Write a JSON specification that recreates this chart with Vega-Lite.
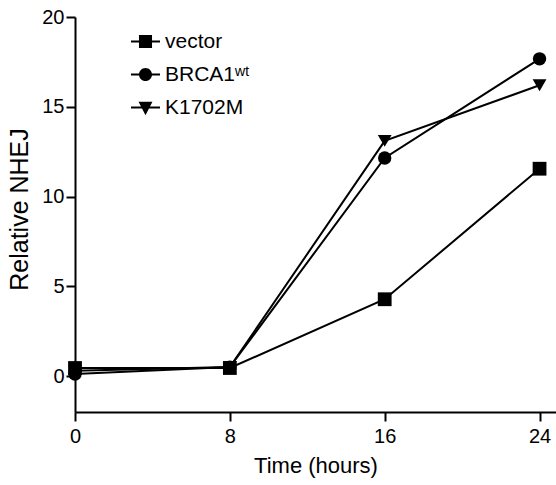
{
  "$schema": "https://vega.github.io/schema/vega-lite/v6.json",
  "autosize": "none",
  "width": 481,
  "height": 395,
  "padding": {"left": 75, "top": 17, "right": 0, "bottom": 73},
  "background": "white",
  "config": {
    "view": {"stroke": null},
    "font": "Liberation Sans",
    "axis": {
      "domainColor": "black", "domainWidth": 2, "tickColor": "black", "tickWidth": 2,
      "labelColor": "black", "titleColor": "black", "labelFont": "Liberation Sans",
      "titleFont": "Liberation Sans", "titleFontWeight": "normal", "grid": false
    },
    "legend": {"labelFont": "Liberation Sans", "labelColor": "black"}
  },
  "data": {
    "values": [
      {"time": 0, "value": 0.45, "series": "vector"},
      {"time": 8, "value": 0.45, "series": "vector"},
      {"time": 16, "value": 4.28, "series": "vector"},
      {"time": 24, "value": 11.55, "series": "vector"},
      {"time": 0, "value": 0.12, "series": "BRCA1wt"},
      {"time": 8, "value": 0.5, "series": "BRCA1wt"},
      {"time": 16, "value": 12.15, "series": "BRCA1wt"},
      {"time": 24, "value": 17.67, "series": "BRCA1wt"},
      {"time": 0, "value": 0.3, "series": "K1702M"},
      {"time": 8, "value": 0.5, "series": "K1702M"},
      {"time": 16, "value": 13.1, "series": "K1702M"},
      {"time": 24, "value": 16.2, "series": "K1702M"}
    ]
  },
  "encoding": {
    "x": {
      "field": "time", "type": "quantitative",
      "scale": {"domain": [0, 24.85], "nice": false, "zero": false},
      "axis": {
        "values": [0, 8, 16, 24], "title": "Time (hours)", "tickSize": 9,
        "labelFontSize": 20, "labelPadding": 5, "titleFontSize": 22,
        "titlePadding": 9, "labelFlush": false
      }
    },
    "y": {
      "field": "value", "type": "quantitative",
      "scale": {"domain": [-2, 20], "nice": false, "zero": false},
      "axis": {
        "values": [0, 5, 10, 15, 20], "title": "Relative NHEJ", "tickSize": 9,
        "labelFontSize": 20, "labelPadding": 2, "titleFontSize": 25,
        "titlePadding": 9, "titleY": 192, "labelFlush": false
      }
    }
  },
  "layer": [
    {
      "mark": {"type": "line", "color": "black", "strokeWidth": 2},
      "encoding": {"detail": {"field": "series"}}
    },
    {
      "transform": [{"filter": "datum.series === 'vector'"}],
      "mark": {"type": "point", "filled": true, "color": "black", "opacity": 1, "size": 190, "shape": "square"}
    },
    {
      "transform": [{"filter": "datum.series === 'BRCA1wt'"}],
      "mark": {"type": "point", "filled": true, "color": "black", "opacity": 1, "size": 180, "shape": "circle"}
    },
    {
      "transform": [{"filter": "datum.series === 'K1702M'"}],
      "mark": {"type": "point", "filled": true, "color": "black", "opacity": 1, "size": 190, "shape": "triangle-down"}
    },
    {
      "mark": {"type": "point", "filled": true, "color": "black", "opacity": 1, "size": 0},
      "encoding": {
        "shape": {
          "field": "series", "type": "nominal",
          "scale": {
            "domain": ["vector", "BRCA1wt", "K1702M"],
            "range": [
              "M-1,-0.07H1V0.07H-1ZM-0.45,-0.45H0.45V0.45H-0.45Z",
              "M-1,-0.07H1V0.07H-1ZM0.45,0A0.45,0.45,0,1,1,-0.45,0A0.45,0.45,0,1,1,0.45,0Z",
              "M-1,-0.07H1V0.07H-1ZM-0.48,-0.39L0.48,-0.39L0,0.53Z"
            ]
          },
          "legend": {
            "title": null, "orient": "none", "legendX": 56, "legendY": 10,
            "padding": 0, "symbolSize": 841, "labelFontSize": 21, "labelOffset": 5,
            "rowPadding": 8, "symbolFillColor": "black", "symbolOpacity": 1,
            "symbolStrokeWidth": 0,
            "labelExpr": "datum.value === 'BRCA1wt' ? 'BRCA1ʷᵗ' : datum.label"
          }
        }
      }
    }
  ]
}
